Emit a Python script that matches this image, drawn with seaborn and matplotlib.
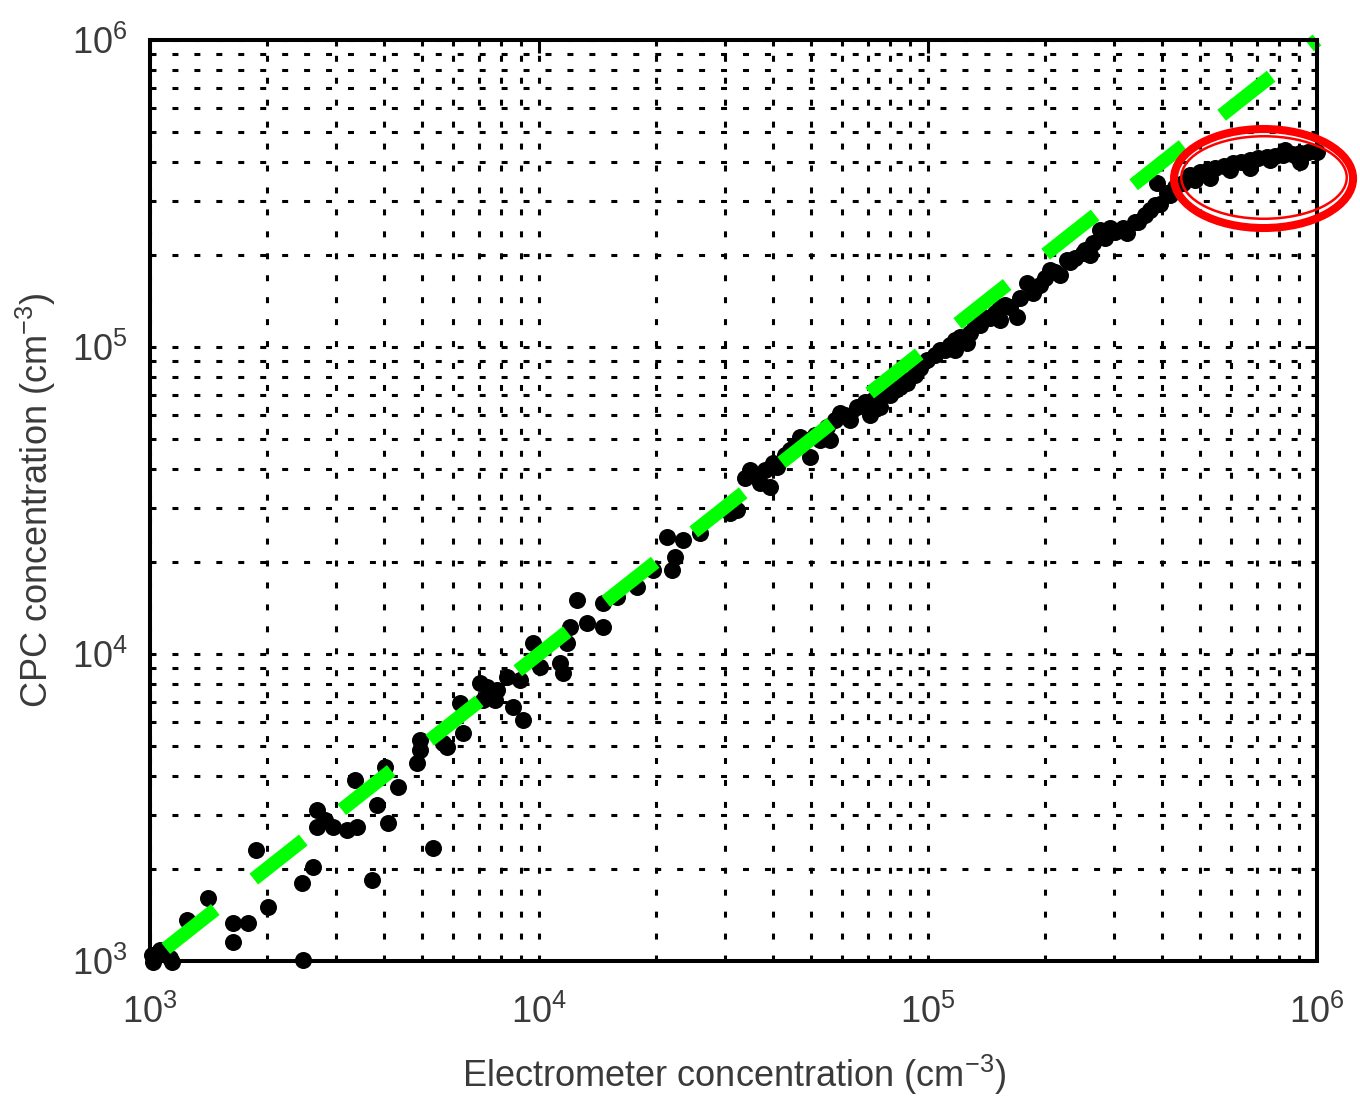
import matplotlib
matplotlib.use("Agg")
import matplotlib.pyplot as plt
from matplotlib.patches import Ellipse
import pandas as pd
import seaborn as sns

# ---- data (cm^-3) ----
electrometer = [
    1012, 1061, 1126, 1018, 1140, 1245, 1410, 1635, 1786, 1635,
    1873, 2011, 2459, 2624, 2474, 2688, 2688, 2818, 2954, 3209,
    3405, 3365, 3722, 3832, 4091, 4341, 4019, 4858, 4945, 4945,
    5340, 5665, 5801, 6377, 6266, 7053, 7348, 7178, 7798, 7707,
    8274, 8574, 8939, 9099, 9652, 10060, 11324, 11527, 11800, 12010,
    12520, 13290, 14610, 14610, 15870, 17860, 19640, 21980, 22370, 21330,
    23460, 25940, 30970, 32280, 34860, 36990, 39250, 39960, 40920, 44190,
    46880, 49750, 52780, 55010, 59390, 63020, 65700, 72230, 75280, 79890,
    84730, 88310, 92600, 99400, 107300, 113900, 120900, 126000, 132100, 138500,
    144300, 153100, 162500, 169400, 179700, 186200, 194100, 205900, 218500, 227700,
    238700, 250300, 265700, 276800, 293800, 317200, 324900, 346700, 372100, 387900,
    394800, 411600, 431500, 452400, 471600, 485800, 500400, 524700, 547000, 576800,
    597500, 608400, 637900, 672800, 705200, 743900, 757100, 779800, 817700, 827300,
    862400, 904300, 948200, 1000000,
    33850, 35930, 38120, 42900, 45510, 48290, 51240, 57680, 61190, 68870,
    77530, 82270, 87290, 95370, 104200, 110600, 117300, 128200, 136100, 148700,
    157800, 172400, 188400, 199900, 212100, 231700, 253300, 285100, 302500, 340500,
    361300, 383200, 418900, 55980, 70950, 117300, 153100, 261000,
    530900, 672800, 904300,
]
cpc = [
    1046, 1086, 1023, 995, 990, 1360, 1604, 1330, 1330, 1153,
    2299, 1500, 1796, 2024, 1008, 3104, 2733, 2880, 2733, 2671,
    2733, 3886, 1836, 3222, 2815, 3689, 4284, 4416, 4868, 5248,
    2334, 5131, 4977, 5529, 6925, 8046, 7808, 7083, 7634, 7083,
    8417, 6721, 8230, 6095, 10860, 9073, 9348, 8672, 10860, 12250,
    14990, 12620, 12250, 14660, 15340, 16530, 18770, 18770, 20700, 24050,
    23520, 24780, 28800, 29440, 39750, 36060, 34990, 41900, 40660, 46190,
    50910, 43820, 49780, 54890, 60950, 57840, 63760, 67210, 63760, 69760,
    74110, 76340, 81060, 90730, 97770, 101500, 107800, 103000, 117900, 125200,
    124300, 135000, 135000, 125200, 161600, 149900, 159200, 178100, 171600, 192000,
    194900, 202400, 218200, 240500, 244200, 244200, 235100, 255400, 279500, 342100,
    292300, 317500, 332000, 342100, 363500, 349900, 371500, 377100, 382800, 388700,
    377100, 397500, 400500, 406600, 412700, 415900, 406600, 419000, 422200, 438200,
    425400, 428500, 431700, 431700,
    37430, 38290, 39750, 44480, 47960, 49780, 51690, 57840, 60050, 66200,
    71370, 72440, 78080, 85440, 94170, 97770, 105400, 111100, 117900, 129000,
    137000, 144400, 155700, 167800, 175500, 189200, 207000, 226500, 236900, 255400,
    269200, 290100, 312600, 49780, 60050, 97770, 122400, 199400,
    355200, 382800, 400500,
]
ref_line = [1e3, 1e6]          # 1:1 line
axis_limits = [1e3, 1e6]
xlabel = "Electrometer concentration (cm$^{-3}$)"
ylabel = "CPC concentration (cm$^{-3}$)"

# ---- style ----
sns.set_theme(style="white")
plt.rcParams["font.family"] = ["Liberation Sans", "DejaVu Sans"]
plt.rcParams["mathtext.fontset"] = "custom"
plt.rcParams["mathtext.rm"] = "Liberation Sans"
plt.rcParams["mathtext.it"] = "Liberation Sans:italic"
plt.rcParams["mathtext.bf"] = "Liberation Sans:bold"
plt.rcParams["lines.scale_dashes"] = False

text_color = "#3a3a3a"

fig = plt.figure(figsize=(13.6, 10.96), dpi=100)
ax = fig.add_axes([150 / 1360, 1 - 961 / 1096, 1167 / 1360, 921 / 1096])
ax.set_xscale("log")
ax.set_yscale("log")

df = pd.DataFrame({"electrometer": electrometer, "cpc": cpc})
sns.scatterplot(data=df, x="electrometer", y="cpc", ax=ax, color="black",
                s=150, linewidth=0, clip_on=False, zorder=3, legend=False)

ax.plot(ref_line, ref_line, color="#00ff00", lw=10,
        linestyle=(66.2, (45.4, 35.3)), dash_capstyle="butt",
        clip_on=False, zorder=4)

ax.set_xlim(axis_limits)
ax.set_ylim(axis_limits)

ax.grid(True, which="both", color="black", lw=2.2, linestyle=(0, (4.3, 11.5)))

for sp in ax.spines.values():
    sp.set_linewidth(2.9)
    sp.set_color("black")
    sp.set_zorder(6)

ax.tick_params(which="both", direction="in", top=True, right=True,
               width=2.2, color="black", labelsize=26, labelcolor=text_color)
ax.tick_params(which="major", length=9)
ax.tick_params(which="minor", length=4.5)
ax.tick_params(axis="x", which="both", pad=24)
ax.tick_params(axis="y", which="both", pad=16)

ax.set_xlabel(xlabel, fontsize=26, color=text_color, labelpad=16)
ax.set_ylabel(ylabel, fontsize=26, color=text_color, labelpad=10)

# red highlight ellipse (double outline)
ax.add_patch(Ellipse((0.9542, 0.8496), 0.1534, 0.1075, transform=ax.transAxes,
                     fill=False, ec="#ff0000", lw=5.8, clip_on=False, zorder=7))
ax.add_patch(Ellipse((0.9546, 0.8507), 0.1418, 0.0896, transform=ax.transAxes,
                     fill=False, ec="#ff0000", lw=1.8, clip_on=False, zorder=7))

fig.savefig("out.png", dpi=100)
